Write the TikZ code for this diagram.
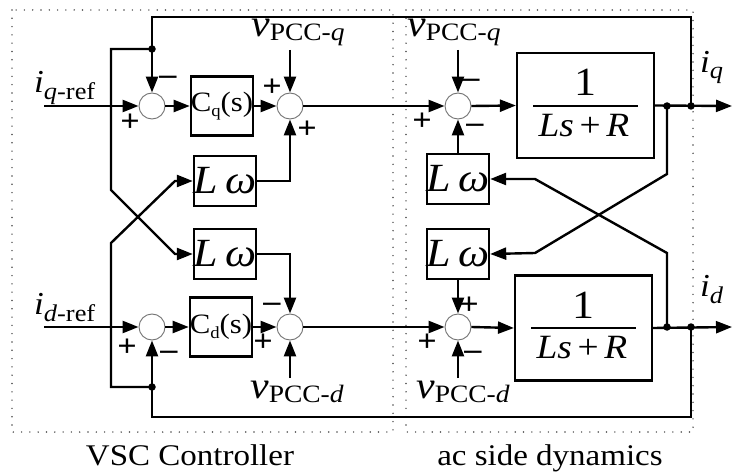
\documentclass[tikz,border=0pt]{standalone}
\usepackage{fontspec}
\setmainfont{Liberation Serif}[FakeStretch=1.1]
\usetikzlibrary{arrows.meta}
\newcommand{\fs}[1]{\fontsize{#1}{#1}\selectfont}
\begin{document}
\begin{tikzpicture}[x=1pt,y=-1pt,
 wire/.style={line width=2.4pt},
 arr/.style={wire,-{Triangle[length=16pt,width=12pt]}},
 sumc/.style={circle,draw=black!55,line width=0.9pt,fill=white,minimum size=26pt,inner sep=0pt},
 blk/.style={draw,line width=2.2pt,fill=white,inner sep=0pt},
 jdot/.style={circle,fill,inner sep=0pt,minimum size=7.5pt},
 sgn/.style={font=\fs{31}\bfseries,inner sep=0pt},
 dotbox/.style={line width=1.6pt,black!70,dash pattern=on 0pt off 8.3pt,line cap=round},
 lbl/.style={inner sep=0pt,anchor=base west},
 lwbox/.style={blk,minimum width=56pt,minimum height=50pt,font=\fs{40}\itshape},
 cbox/.style={blk,minimum width=62pt,minimum height=59pt,font=\fs{28}},
 pbox/.style={blk,minimum width=137pt,minimum height=105pt},
]
\useasboundingbox (0,0) rectangle (732,476);
\draw[dotbox] (12,10) rectangle (393,432);
\draw[dotbox] (406,10) rectangle (693,432);

% sums
\node[sumc] (sq1) at (152,106) {};
\node[sumc] (sq2) at (290,106) {};
\node[sumc] (sq3) at (458,106) {};
\node[sumc] (sd1) at (152,327) {};
\node[sumc] (sd2) at (290,327) {};
\node[sumc] (sd3) at (458,327) {};
% blocks
\node[cbox] (cq) at (222,106) {C\raisebox{-5pt}{\fs{17}q}(s)};
\node[cbox] (cd) at (221,327) {C\raisebox{-5pt}{\fs{17}d}(s)};
\node[lwbox] (lw1) at (225,181) {L\,ω};
\node[lwbox] (lw2) at (225,254) {L\,ω};
\node[lwbox] (lw3) at (458,179) {L\,ω};
\node[lwbox] (lw4) at (458,254) {L\,ω};
\node[pbox] (pq) at (585.5,105.5) {};
\node[pbox] (pd) at (583.5,328) {};
\node[font=\fs{40}] (nq) at (585,82) {1};
\draw[line width=2.3pt] (533,106) -- (638,106);
\node[font=\fs{34}\itshape,anchor=base] (dq) at (584,137) {Ls\,{\upshape +}\,R};
\node[font=\fs{40}] (nd) at (583,305) {1};
\draw[line width=2.3pt] (531,328) -- (636,328);
\node[font=\fs{34}\itshape,anchor=base] (dd) at (582,358) {Ls\,{\upshape +}\,R};

% coordinates
\coordinate (iqin) at (44,106);
\coordinate (idin) at (44,327);
\coordinate (vq1) at (290,50);
\coordinate (vq2) at (458,50);
\coordinate (vd1) at (290,378);
\coordinate (vd2) at (458,378);
\coordinate (jq1) at (667,106);
\coordinate (jq2) at (691,106);
\coordinate (oq) at (732,106);
\coordinate (jd1) at (667,327);
\coordinate (jd2) at (691,327);
\coordinate (od) at (732,327);
\coordinate (jtop) at (152,49);
\coordinate (jbot) at (152,387);

% q path
\draw[arr] (iqin) -- (sq1.west);
\draw[arr] (sq1.east) -- (cq.west);
\draw[arr] (cq.east) -- (sq2.west);
\draw[arr] (vq1) -- (sq2.north);
\draw[arr] (lw1.east) -| (sq2.south);
\draw[arr] (sq2.east) -- (sq3.west);
\draw[arr] (vq2) -- (sq3.north);
\draw[arr] (lw3.north) -- (sq3.south);
\draw[arr] (sq3.east) -- (pq.west);
\draw[arr] (pq.east) -- (oq);
\draw[arr] (jq2) |- (152,17) -- (sq1.north);
\draw[arr] (jtop) -- (111,49) -- (111,190) -- (175,254) -- (lw2.west);
\draw[arr] (jq1) -- (667,174) -- (535,253) -- (lw4.east);

% d path
\draw[arr] (idin) -- (sd1.west);
\draw[arr] (sd1.east) -- (cd.west);
\draw[arr] (cd.east) -- (sd2.west);
\draw[arr] (vd1) -- (sd2.south);
\draw[arr] (lw2.east) -| (sd2.north);
\draw[arr] (sd2.east) -- (sd3.west);
\draw[arr] (vd2) -- (sd3.south);
\draw[arr] (lw4.south) -- (sd3.north);
\draw[arr] (sd3.east) -- (pd.west);
\draw[arr] (pd.east) -- (od);
\draw[arr] (jd2) |- (152,417) -- (sd1.south);
\draw[arr] (jbot) -- (111,387) -- (111,243) -- (175,181) -- (lw1.west);
\draw[arr] (jd1) -- (667,253) -- (535,179) -- (lw3.east);

% junction dots
\foreach \p in {jq1,jq2,jd1,jd2,jtop,jbot} \node[jdot] at (\p) {};

% signs
\node[sgn] (a1) at (168,80) {–};
\node[sgn] (a2) at (130,123) {+};
\node[sgn] (a3) at (272,88) {+};
\node[sgn] (a4) at (307,130) {+};
\node[sgn] (a5) at (471,83) {–};
\node[sgn] (a6) at (422,122) {+};
\node[sgn] (a7) at (475,128) {–};
\node[sgn] (b1) at (127,348) {+};
\node[sgn] (b2) at (169,355) {–};
\node[sgn] (b3) at (272,307) {–};
\node[sgn] (b4) at (263,343) {+};
\node[sgn] (b5) at (469,306) {+};
\node[sgn] (b6) at (427,343) {+};
\node[sgn] (b7) at (473,355) {–};

% labels
\node[lbl] (liqr) at (34,93) {\fs{32}\itshape i\raisebox{-7pt}{\fs{24}q\upshape -ref}};
\node[lbl] (lidr) at (34,314) {\fs{32}\itshape i\raisebox{-7pt}{\fs{24}d\upshape -ref}};
\node[lbl] (lvq1) at (251,37) {\fs{38}\itshape v\raisebox{-4pt}{\fs{25}\upshape PCC-\itshape q}};
\node[lbl] (lvq2) at (407,37) {\fs{38}\itshape v\raisebox{-4pt}{\fs{25}\upshape PCC-\itshape q}};
\node[lbl] (lvd1) at (250,398) {\fs{38}\itshape v\raisebox{-4pt}{\fs{25}\upshape PCC-\itshape d}};
\node[lbl] (lvd2) at (416,398) {\fs{38}\itshape v\raisebox{-4pt}{\fs{25}\upshape PCC-\itshape d}};
\node[lbl] (liq) at (700,73) {\fs{32}\itshape i\raisebox{-6pt}{\fs{24}q}};
\node[lbl] (lid) at (700,297) {\fs{32}\itshape i\raisebox{-6pt}{\fs{24}d}};
\node[font=\fs{30},anchor=base] (t1) at (190,465) {VSC Controller};
\node[font=\fs{30},anchor=base] (t2) at (550,465) {ac side dynamics};
\end{tikzpicture}
\end{document}
